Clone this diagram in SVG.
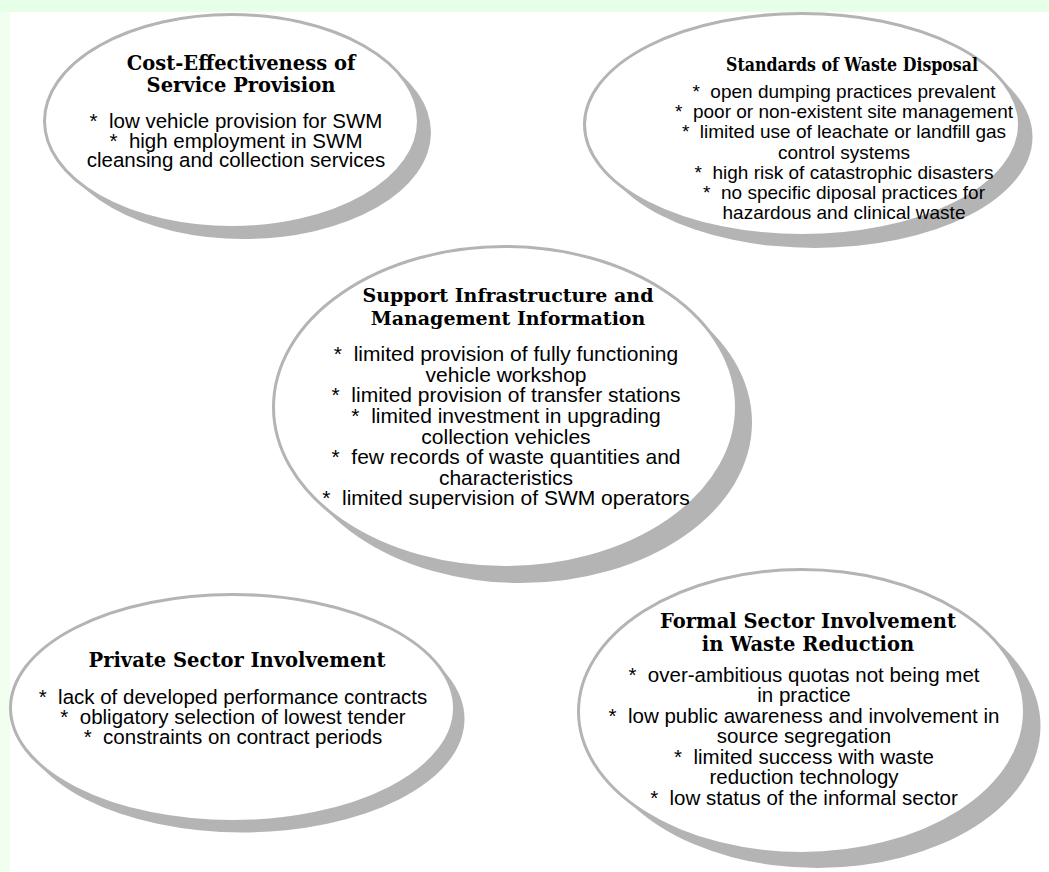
<svg xmlns="http://www.w3.org/2000/svg" width="1049" height="872" viewBox="0 0 1049 872">
<style>
.sh{fill:#b4b4b4;stroke:none}
.el{fill:#ffffff;stroke:#b4b4b4;stroke-width:3}
.t{font-family:"DejaVu Serif","Liberation Serif",serif;font-weight:bold;font-size:19.5px;fill:#000;text-anchor:middle}
.b{font-family:"Liberation Sans",Arial,sans-serif;font-size:20.5px;fill:#000;text-anchor:middle;white-space:pre}
#node-standards .t{font-size:18.5px}
#node-standards .b{font-size:19px}
#node-support .b{font-size:21px}
#node-support .t{font-size:19px}
</style>
<rect x="0" y="0" width="1049" height="872" fill="#e6ffe6"/>
<rect x="0" y="12" width="10" height="860" fill="#f0fff0"/>
<rect x="10" y="12" width="1039" height="860" fill="#ffffff"/>
<g id="connectors"/>
<g id="node-cost">
<ellipse class="sh" cx="244" cy="132.5" rx="187" ry="106.5"/>
<ellipse class="el" cx="231.5" cy="121" rx="187" ry="106.5"/>
<text class="t" x="241" y="70">Cost-Effectiveness of</text>
<text class="t" x="241" y="92">Service Provision</text>
<text class="b" x="236" y="128">*  low vehicle provision for SWM</text>
<text class="b" x="236" y="148">*  high employment in SWM</text>
<text class="b" x="236" y="167">cleansing and collection services</text>
</g>
<g id="node-standards">
<ellipse class="sh" cx="815" cy="137" rx="217.5" ry="111"/>
<ellipse class="el" cx="802" cy="124.5" rx="217.5" ry="111"/>
<text class="t" x="852" y="71" textLength="252" lengthAdjust="spacingAndGlyphs">Standards of Waste Disposal</text>
<text class="b" x="844" y="98">*  open dumping practices prevalent</text>
<text class="b" x="844" y="118">*  poor or non-existent site management</text>
<text class="b" x="844" y="138">*  limited use of leachate or landfill gas</text>
<text class="b" x="844" y="159">control systems</text>
<text class="b" x="844" y="179">*  high risk of catastrophic disasters</text>
<text class="b" x="844" y="199">*  no specific diposal practices for</text>
<text class="b" x="844" y="219">hazardous and clinical waste</text>
</g>
<g id="node-support">
<ellipse class="sh" cx="520.5" cy="422.5" rx="231.5" ry="160.5"/>
<ellipse class="el" cx="505" cy="407" rx="231.5" ry="160.5"/>
<text class="t" x="508" y="302">Support Infrastructure and</text>
<text class="t" x="508" y="325">Management Information</text>
<text class="b" x="506" y="361">*  limited provision of fully functioning</text>
<text class="b" x="506" y="382">vehicle workshop</text>
<text class="b" x="506" y="402">*  limited provision of transfer stations</text>
<text class="b" x="506" y="423">*  limited investment in upgrading</text>
<text class="b" x="506" y="444">collection vehicles</text>
<text class="b" x="506" y="464">*  few records of waste quantities and</text>
<text class="b" x="506" y="485">characteristics</text>
<text class="b" x="506" y="505">*  limited supervision of SWM operators</text>
</g>
<g id="node-private">
<ellipse class="sh" cx="242.5" cy="719" rx="222" ry="113.5"/>
<ellipse class="el" cx="232.5" cy="708" rx="222" ry="113.5"/>
<text class="t" x="237" y="667">Private Sector Involvement</text>
<text class="b" x="233" y="704">*  lack of developed performance contracts</text>
<text class="b" x="233" y="724">*  obligatory selection of lowest tender</text>
<text class="b" x="233" y="744">*  constraints on contract periods</text>
</g>
<g id="node-formal">
<ellipse class="sh" cx="817.5" cy="726" rx="223" ry="142"/>
<ellipse class="el" cx="801.5" cy="711.5" rx="223" ry="142"/>
<text class="t" x="808" y="628">Formal Sector Involvement</text>
<text class="t" x="808" y="651">in Waste Reduction</text>
<text class="b" x="804" y="682">*  over-ambitious quotas not being met</text>
<text class="b" x="804" y="702">in practice</text>
<text class="b" x="804" y="723">*  low public awareness and involvement in</text>
<text class="b" x="804" y="743">source segregation</text>
<text class="b" x="804" y="764">*  limited success with waste</text>
<text class="b" x="804" y="784">reduction technology</text>
<text class="b" x="804" y="805">*  low status of the informal sector</text>
</g>
</svg>
